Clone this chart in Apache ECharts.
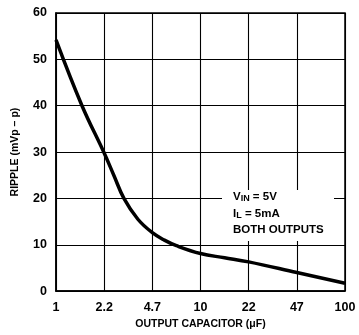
<!DOCTYPE html>
<html><head><meta charset="utf-8">
<script src="https://cdn.jsdelivr.net/npm/echarts@6/dist/echarts.min.js"></script>
<style>html,body{margin:0;padding:0;background:#fff}#c{width:359px;height:335px}</style>
</head><body><div id="c"></div>
<script>
// x positions are half-decade steps (index into xTicks)
var xTicks = ['1', '2.2', '4.7', '10', '22', '47', '100'];
var yTicks = [0, 10, 20, 30, 40, 50, 60];
var curveX = [0, 0.54, 1.0, 1.2, 1.41, 1.7, 2.0, 2.25, 2.5, 3.0, 3.5, 4.0, 5.0, 6.0];
var curveY = [54.2, 40, 29.8, 25.0, 20, 15.5, 12.6, 11.0, 9.8, 8.1, 7.2, 6.3, 4.0, 1.7];
var FONT = "'Liberation Sans', Arial, sans-serif";

var chart = echarts.init(document.getElementById('c'), null, {renderer: 'canvas'});
var data = curveX.map(function (x, i) { return [x, curveY[i]]; });
var rich = {
  v: {fontFamily: FONT, fontSize: 11.5, fontWeight: 'bold', fill: '#000', color: '#000'},
  s: {fontFamily: FONT, fontSize: 9, fontWeight: 'bold', fill: '#000', color: '#000', padding: [4, 0, 0, 0]}
};
chart.setOption({
  animation: false,
  backgroundColor: '#fff',
  grid: {left: 56, right: 14, top: 13, bottom: 39, show: true, borderColor: '#000', borderWidth: 1.5},
  xAxis: {
    type: 'value', min: 0, max: xTicks.length - 1, interval: 1,
    name: 'OUTPUT CAPACITOR (\u03bcF)', nameLocation: 'middle', nameGap: 26,
    nameTextStyle: {color: '#000', fontFamily: FONT, fontSize: 10.5, fontWeight: 'bold'},
    axisLine: {show: true, lineStyle: {color: '#000', width: 1.5}},
    axisTick: {show: false},
    axisLabel: {color: '#000', fontFamily: FONT, fontSize: 12.5, fontWeight: 'bold', margin: 10,
      formatter: function (v) { return xTicks[Math.round(v)]; }},
    splitLine: {show: true, lineStyle: {color: '#000', width: 1.1}}
  },
  yAxis: {
    type: 'value', min: yTicks[0], max: yTicks[yTicks.length - 1], interval: 10,
    name: 'RIPPLE (mVp \u2013 p)', nameLocation: 'middle', nameGap: 35, nameRotate: 90,
    nameTextStyle: {color: '#000', fontFamily: FONT, fontSize: 10.5, fontWeight: 'bold'},
    axisLine: {show: true, lineStyle: {color: '#000', width: 1.5}},
    axisTick: {show: false},
    axisLabel: {color: '#000', fontFamily: FONT, fontSize: 12.5, fontWeight: 'bold', margin: 9},
    splitLine: {show: true, lineStyle: {color: '#000', width: 1.1}}
  },
  series: [{
    type: 'line', data: data, smooth: 0.4, showSymbol: false,
    lineStyle: {color: '#000', width: 3.5}, z: 5
  }],
  graphic: [
    {type: 'rect', shape: {x: 222, y: 190, width: 112, height: 51}, style: {fill: '#fff'}, z: 10},
    {type: 'text', x: 233, y: 190, z: 11, style: {text: '{v|V}{s|IN}{v| = 5V}', rich: rich}},
    {type: 'text', x: 233, y: 207, z: 11, style: {text: '{v|I}{s|L}{v| = 5mA}', rich: rich}},
    {type: 'text', x: 233, y: 224, z: 11, style: {
      text: 'BOTH OUTPUTS', fontFamily: FONT, fontSize: 11.5, fontWeight: 'bold', fill: '#000'}}
  ]
});
</script></body></html>
